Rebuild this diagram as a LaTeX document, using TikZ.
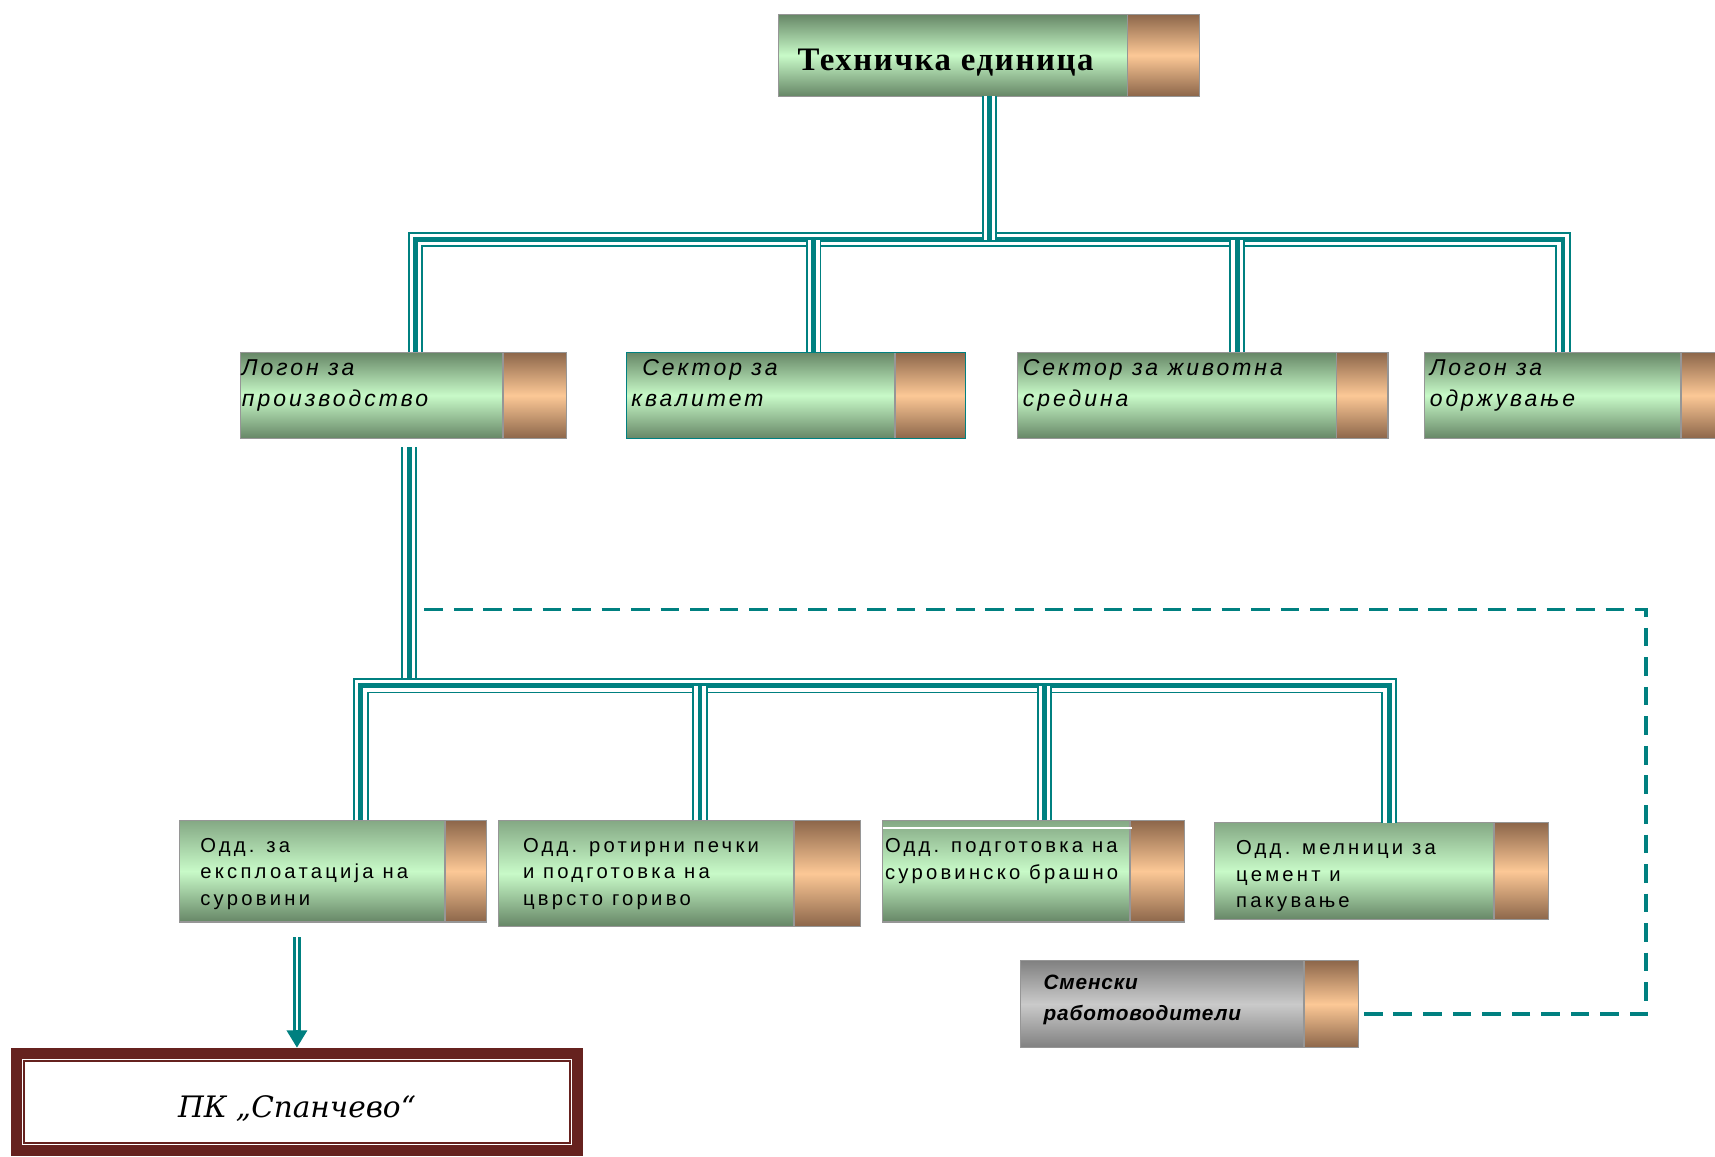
\documentclass[tikz,border=0pt]{standalone}
\usepackage{fontspec}
\setmainfont{Liberation Serif}
\newfontfamily\topf{Liberation Serif}[LetterSpace=5]
\newfontfamily\rowf{Liberation Sans}[LetterSpace=13]
\newfontfamily\lowf{Liberation Sans}[LetterSpace=16]
\newfontfamily\smf{Liberation Sans}[LetterSpace=4]
\newfontfamily\pkf{DejaVu Serif}
\usetikzlibrary{arrows.meta}
\definecolor{tl}{RGB}{0,128,128}
\definecolor{gd}{RGB}{102,134,102}
\definecolor{gdb}{RGB}{132,168,132}
\definecolor{gl}{RGB}{200,250,200}
\definecolor{cd}{RGB}{140,102,74}
\definecolor{cl}{RGB}{252,200,150}
\definecolor{grd}{RGB}{128,128,128}
\definecolor{grl}{RGB}{202,202,202}
\definecolor{mr}{RGB}{102,34,31}
\definecolor{bd}{RGB}{150,150,150}
\begin{document}
\begin{tikzpicture}[x=1pt,y=-1pt,
  box/.style={rectangle, draw=bd, line width=1pt, outer sep=0pt, inner sep=0pt,
    anchor=north west, top color=gd, bottom color=gd, middle color=gl,
    path picture={
      \shade[top color=cd, bottom color=cd, middle color=cl]
        ([xshift=-#1pt]path picture bounding box.north east) rectangle (path picture bounding box.south east);
      \draw[bd, line width=1.5pt] ([xshift=-#1pt]path picture bounding box.north east) -- ([xshift=-#1pt]path picture bounding box.south east);}},
  lowbox/.style={box=#1, top color=gdb, bottom color=gd, middle color=gl},
  greybox/.style={box=#1, top color=grd, bottom color=grd, middle color=grl},
  tri/.style={draw=tl, line width=14pt, postaction={draw=white, line width=10.5pt}, postaction={draw=tl, line width=4.5pt}},
  dsh/.style={draw=tl, line width=3pt, dash pattern=on 17pt off 10pt},
  rowtxt/.style={anchor=base west, inner sep=0pt, align=left, font=\rowf\itshape\fontsize{21}{29}\selectfont},
  lowtxt/.style={anchor=base west, inner sep=0pt, align=left, font=\lowf\fontsize{18.5}{24.5}\selectfont},
]
\useasboundingbox (0,0) rectangle (1568,1057);

% boxes
\node[box=66, minimum width=385pt, minimum height=75pt] (T) at (712,13) {};
\node[box=58, minimum width=298pt, minimum height=79pt] (A) at (220,322) {};
\node[box=65, minimum width=310pt, minimum height=79pt, draw=tl] (B) at (573,322) {};
\node[box=47, minimum width=339pt, minimum height=79pt] (C) at (930,322) {};
\node[box=63, minimum width=298pt, minimum height=79pt] (D) at (1302,322) {};
\node[lowbox=38, minimum width=281pt, minimum height=93pt] (E) at (164,750) {};
\node[lowbox=61, minimum width=331pt, minimum height=97pt] (F) at (456,750) {};
\node[lowbox=50, minimum width=276pt, minimum height=93pt] (G) at (807,750) {};
\node[lowbox=50, minimum width=306pt, minimum height=89pt] (H) at (1110,752) {};
\node[greybox=50, minimum width=309pt, minimum height=80pt] (S) at (933,878) {};
\draw[white, line width=1.5pt] ([yshift=-7pt]G.north west) -- ++(228,0);

% texts (base anchor = baseline of the last line)
\node[anchor=base west, inner sep=0pt, font=\topf\bfseries\fontsize{30}{34}\selectfont] (Tt) at (729,64) {Техничка единица};
\node[rowtxt] (At) at (221,372) {Логон за\\производство};
\node[rowtxt] (Bt) at (577,372) {\hspace{10pt}Сектор за\\квалитет};
\node[rowtxt] (Ct) at (935,372) {Сектор за животна\\средина};
\node[rowtxt] (Dt) at (1307,372) {Логон за\\одржување};
\node[lowtxt] (Et) at (183,828) {Одд. за\\експлоатација на\\суровини};
\node[lowtxt] (Ft) at (478,828) {Одд. ротирни печки\\и подготовка на\\цврсто гориво};
\node[lowtxt] (Gt) at (809,804) {Одд. подготовка на\\суровинско брашно};
\node[lowtxt] (Ht) at (1130,830) {Одд. мелници за\\цемент и\\пакување};
\node[anchor=base west, inner sep=0pt, align=left, font=\smf\bfseries\itshape\fontsize{19}{28}\selectfont] (St) at (954,933) {Сменски\\работоводители};

% bottom framed box
\node[draw=mr, line width=10pt, outer sep=0pt, minimum width=513pt, minimum height=89pt,
  font=\pkf\itshape\fontsize{27}{32}\selectfont] (P) at (271.5,1007.5) {\raisebox{-6pt}[\height][\depth]{ПК „Спанчево“}};
\draw[mr, line width=2pt] ([xshift=7pt,yshift=-7pt]P.north west) rectangle ([xshift=-7pt,yshift=7pt]P.south east);

% upper connectors
\coordinate (bus1) at (904,219);
\draw[tri] ([xshift=160pt]A.north west) |- (bus1) -| ([xshift=127pt]D.north west);
\draw[tri] ([xshift=171pt]B.north west) -- ([xshift=171pt]B.north west |- bus1);
\draw[tri] ([xshift=201pt]C.north west) -- ([xshift=201pt]C.north west |- bus1);
\draw[tri] (T.south) -- (T.south |- bus1);

% lower connectors
\coordinate (bus2) at (374,627);
\draw[tri] ([xshift=5pt,yshift=-8pt]A.south) -- (bus2);
\draw[tri] ([xshift=166pt]E.north west) |- (bus2) -| ([xshift=160pt]H.north west);
\draw[tri] ([xshift=184pt]F.north west) -- ([xshift=184pt]F.north west |- bus2);
\draw[tri] ([xshift=148pt]G.north west) -- ([xshift=148pt]G.north west |- bus2);

% dashed link
\coordinate (dstart) at (388,557);
\coordinate (dturn) at (1505,557);
\draw[dsh] (dstart) -- (dturn) |- ([yshift=-9pt]S.east);

% arrow to ПК
\draw[tl, line width=7pt, shorten <=14pt, shorten >=5pt, -{Triangle[width=18pt,length=16pt]},
  postaction={draw=white, line width=1.5pt, -, shorten >=21pt}] (P.north |- E.south) -- (P.north);
\end{tikzpicture}
\end{document}
